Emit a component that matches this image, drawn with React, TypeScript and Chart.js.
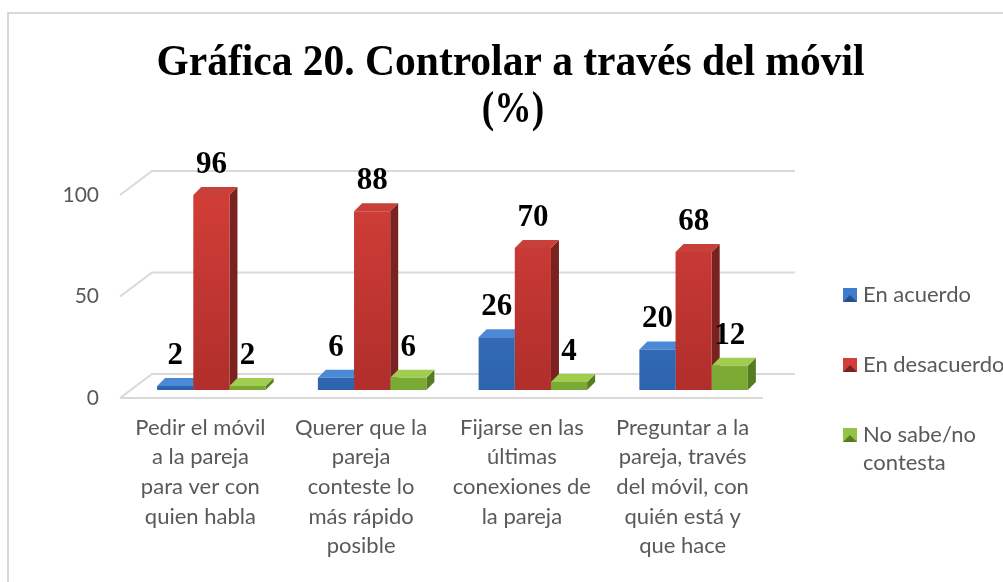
import React, { useEffect, useRef } from "react";
import { Chart, registerables } from "chart.js";

Chart.register(...registerables);

// ---- data ----
const categories: string[][] = [
  ["Pedir el móvil", "a la pareja", "para ver con", "quien habla"],
  ["Querer que la", "pareja", "conteste lo", "más rápido", "posible"],
  ["Fijarse en las", "últimas", "conexiones de", "la pareja"],
  ["Preguntar a la", "pareja, través", "del móvil, con", "quién está y", "que hace"],
];
const seriesNames = ["En acuerdo", "En desacuerdo", "No sabe/no contesta"];
const enAcuerdo = [2, 6, 26, 20];
const enDesacuerdo = [96, 88, 70, 68];
const noSabe = [2, 6, 4, 12];
const yTicks = [0, 50, 100];
const titleLines = ["Gráfica 20. Controlar a través del móvil", "(%)"];
const legendLines = [["En acuerdo"], ["En desacuerdo"], ["No sabe/no", "contesta"]];

const palette = [
  { front: "#3f7ccb", frontDark: "#2e64ad", side: "#23508f", top: "#4b89d6" },
  { front: "#d23e38", frontDark: "#b02e2b", side: "#7a2220", top: "#c8403a" },
  { front: "#93c244", frontDark: "#79a834", side: "#567c22", top: "#a0cd50" },
];

const DX = 8;
const DY = -8;
const FRONT = { dx: -11, dy: 8 };
const BACK = { dx: 21, dy: -16 };

const threeDPlugin = {
  id: "threeD",
  beforeDraw(chart: any) {
    const { ctx } = chart;
    ctx.save();
    ctx.strokeStyle = "#d9d9d9";
    ctx.lineWidth = 2;
    ctx.beginPath();
    ctx.moveTo(8, 600);
    ctx.lineTo(8, 13);
    ctx.lineTo(1010, 13);
    ctx.stroke();
    ctx.restore();
  },
  beforeDatasetsDraw(chart: any) {
    const { ctx, chartArea, scales } = chart;
    const ys = scales.y;
    const L = chartArea.left;
    const R = chartArea.right;
    ctx.save();
    ctx.strokeStyle = "#d9d9d9";
    ctx.lineWidth = 2;
    yTicks.forEach((v) => {
      const py = ys.getPixelForValue(v);
      ctx.beginPath();
      ctx.moveTo(L + FRONT.dx, py + FRONT.dy);
      ctx.lineTo(L + BACK.dx, py + BACK.dy);
      ctx.lineTo(R + BACK.dx, py + BACK.dy);
      ctx.stroke();
    });
    const p0 = ys.getPixelForValue(0);
    ctx.beginPath();
    ctx.moveTo(L + FRONT.dx, p0 + FRONT.dy);
    ctx.lineTo(R + FRONT.dx, p0 + FRONT.dy);
    ctx.stroke();

    const n = chart.data.labels.length;
    for (let i = 0; i < n; i++) {
      for (let d = 0; d < chart.data.datasets.length; d++) {
        const bar = chart.getDatasetMeta(d).data[i];
        const { x, y, base, width } = bar.getProps(["x", "y", "base", "width"], true);
        const l = x - width / 2;
        const r = x + width / 2;
        ctx.fillStyle = palette[d].side;
        ctx.beginPath();
        ctx.moveTo(r, y);
        ctx.lineTo(r + DX, y + DY);
        ctx.lineTo(r + DX, base + DY);
        ctx.lineTo(r, base);
        ctx.closePath();
        ctx.fill();
        ctx.fillStyle = palette[d].top;
        ctx.beginPath();
        ctx.moveTo(l, y);
        ctx.lineTo(l + DX, y + DY);
        ctx.lineTo(r + DX, y + DY);
        ctx.lineTo(r, y);
        ctx.closePath();
        ctx.fill();
      }
    }
    ctx.restore();
  },
  afterDatasetsDraw(chart: any) {
    const { ctx } = chart;
    ctx.save();
    ctx.font = "bold 31px 'Liberation Serif', 'Times New Roman', serif";
    ctx.fillStyle = "#000000";
    ctx.textAlign = "center";
    ctx.textBaseline = "alphabetic";
    chart.data.datasets.forEach((ds: any, d: number) => {
      const meta = chart.getDatasetMeta(d);
      meta.data.forEach((bar: any, i: number) => {
        const { x, y } = bar.getProps(["x", "y"], true);
        ctx.fillText(String(ds.data[i]), x, y - 22);
      });
    });
    ctx.restore();
  },
  afterDraw(chart: any) {
    const { ctx } = chart;
    ctx.save();
    // title (slightly condensed, as in the reference)
    ctx.font = "bold 44px 'Liberation Serif', 'Times New Roman', serif";
    ctx.fillStyle = "#000000";
    ctx.textAlign = "center";
    ctx.textBaseline = "alphabetic";
    const sx = 0.943;
    ctx.save();
    ctx.translate(510.5, 0);
    ctx.scale(sx, 1);
    ctx.fillText(titleLines[0], 0, 75);
    ctx.restore();
    ctx.save();
    ctx.translate(513, 0);
    ctx.scale(0.85, 1);
    ctx.fillText(titleLines[1], 0, 122);
    ctx.restore();
    // legend
    const centers = [295, 365, 435];
    ctx.font = "22px Lato, 'Open Sans', sans-serif";
    ctx.textAlign = "left";
    ctx.textBaseline = "middle";
    legendLines.forEach((lines, k) => {
      const cy = centers[k];
      ctx.fillStyle = palette[k].front;
      ctx.fillRect(843, cy - 7, 14, 14);
      ctx.fillStyle = palette[k].side;
      ctx.beginPath();
      ctx.moveTo(843, cy + 7);
      ctx.lineTo(850, cy);
      ctx.lineTo(857, cy + 7);
      ctx.closePath();
      ctx.fill();
      ctx.fillStyle = "#595959";
      lines.forEach((t, j) => ctx.fillText(t, 863, cy + j * 28));
    });
    ctx.restore();
  },
};

function makeGradient(d: number) {
  return (context: any) => {
    const chart = context.chart;
    const ca = chart.chartArea;
    if (!ca) return palette[d].front;
    const g = chart.ctx.createLinearGradient(0, ca.top, 0, ca.bottom);
    g.addColorStop(0, palette[d].front);
    g.addColorStop(1, palette[d].frontDark);
    return g;
  };
}

export default function App() {
  const canvasRef = useRef<HTMLCanvasElement | null>(null);

  useEffect(() => {
    if (!canvasRef.current) return;
    const series = [enAcuerdo, enDesacuerdo, noSabe];
    const chart = new Chart(canvasRef.current, {
      type: "bar",
      data: {
        labels: categories,
        datasets: series.map((values, d) => ({
          label: seriesNames[d],
          data: values,
          backgroundColor: makeGradient(d),
          borderWidth: 0,
          categoryPercentage: 0.675,
          barPercentage: 1,
        })),
      },
      options: {
        animation: false,
        responsive: false,
        layout: { padding: { left: 17, right: 229, top: 187, bottom: 0 } },
        plugins: {
          legend: { display: false },
          title: { display: false },
          tooltip: { enabled: false },
        },
        scales: {
          x: {
            grid: { display: false, drawTicks: false },
            border: { display: false },
            ticks: {
              color: "#595959",
              font: { family: "Lato, 'Open Sans', sans-serif", size: 22, lineHeight: 1.345 },
              padding: 23,
              labelOffset: -11,
              maxRotation: 0,
              autoSkip: false,
            },
            afterFit: (s: any) => {
              s.height = 192;
            },
          },
          y: {
            min: 0,
            max: 100,
            grid: { display: false, drawTicks: false },
            border: { display: false },
            ticks: {
              stepSize: 50,
              color: "#595959",
              font: { family: "Lato, 'Open Sans', sans-serif", size: 21 },
              padding: 32,
              labelOffset: 8,
            },
            afterFit: (s: any) => {
              s.width = 114;
            },
          },
        },
      },
      plugins: [threeDPlugin],
    } as any);
    return () => chart.destroy();
  }, []);

  return (
    <div style={{ position: "fixed", left: 0, top: 0, width: 1003, height: 582, background: "#ffffff" }}>
      <canvas ref={canvasRef} width={1003} height={582} style={{ display: "block" }} />
    </div>
  );
}
